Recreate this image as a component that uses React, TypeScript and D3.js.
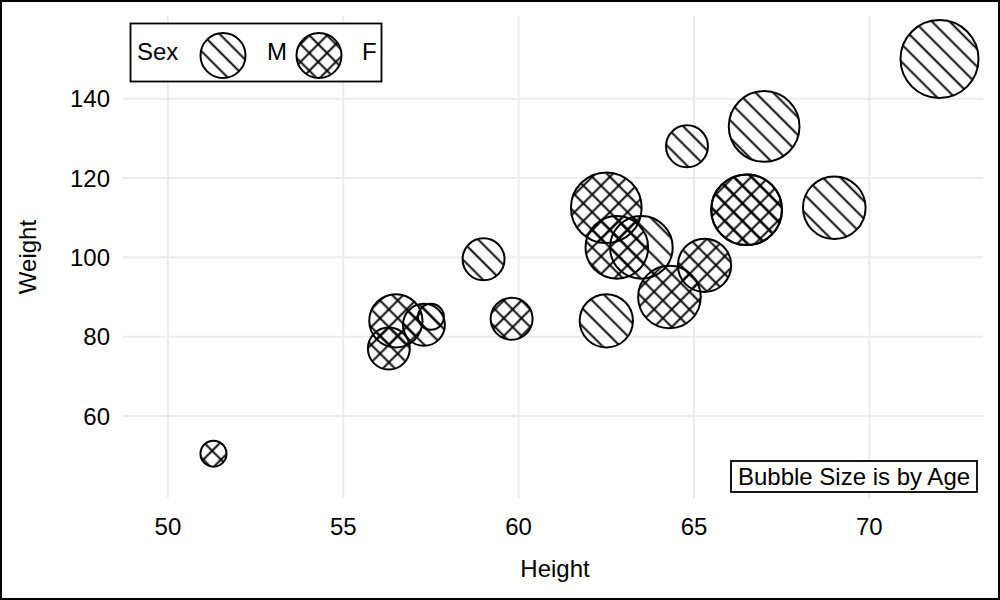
import React, { useEffect } from 'react';
import * as d3 from 'd3';

// SASHELP.CLASS
const names = ['Alfred', 'Alice', 'Barbara', 'Carol', 'Henry', 'James', 'Jane', 'Janet', 'Jeffrey', 'John',
  'Joyce', 'Judy', 'Louise', 'Mary', 'Philip', 'Robert', 'Ronald', 'Thomas', 'William'];
const sexes = ['M', 'F', 'F', 'F', 'M', 'M', 'F', 'F', 'M', 'M', 'F', 'F', 'F', 'F', 'M', 'M', 'M', 'M', 'M'];
const ages = [14, 13, 13, 14, 14, 12, 12, 15, 13, 12, 11, 14, 12, 15, 16, 12, 15, 11, 15];
const heights = [69.0, 56.5, 65.3, 62.8, 63.5, 57.3, 59.8, 62.5, 62.5, 59.0, 51.3, 64.3, 56.3, 66.5, 72.0, 64.8, 67.0, 57.5, 66.5];
const weights = [112.5, 84.0, 98.0, 102.5, 102.5, 83.0, 84.5, 112.5, 84.0, 99.5, 50.5, 90.0, 77.0, 112.0, 150.0, 128.0, 133.0, 85.0, 112.0];

const xTicks = [50, 55, 60, 65, 70];
const yTicks = [60, 80, 100, 120, 140];
const legendGroups = ['M', 'F'];

const W = 1000;
const H = 600;
const font = '"Liberation Sans", Arial, sans-serif';
const fontSize = 24;
const gridColor = '#ececec';
const hatchGap = 12.5;
const hatchWidth = 1.9;

export default function App() {
  useEffect(() => {
    document.body.style.margin = '0';
  }, []);

  const x = d3.scaleLinear().domain([48.72, 73.24]).range([123, 983]);
  const y = d3.scaleLinear().domain([39.32, 160.85]).range([498, 16]);
  const r = d3.scaleRadial().domain([11, 16]).range([13, 39]);

  const fillFor = (s: string) => (s === 'M' ? 'url(#hatchM)' : 'url(#hatchF)');
  const [x0, x1] = x.range();
  const [y0, y1] = y.range();

  // legend layout
  const legendCx = [223, 319];
  const legendTx = [267, 362];

  return (
    <svg width={W} height={H} style={{ display: 'block' }} fontFamily={font}>
      <defs>
        <pattern id="hatchM" patternUnits="userSpaceOnUse" width={hatchGap} height={hatchGap} patternTransform="rotate(45)">
          <line x1={0} y1={hatchGap / 2} x2={hatchGap} y2={hatchGap / 2} stroke="#000" strokeWidth={hatchWidth} />
        </pattern>
        <pattern id="hatchF" patternUnits="userSpaceOnUse" width={hatchGap} height={hatchGap} patternTransform="rotate(45)">
          <line x1={0} y1={hatchGap / 2} x2={hatchGap} y2={hatchGap / 2} stroke="#000" strokeWidth={hatchWidth} />
          <line x1={hatchGap / 2} y1={0} x2={hatchGap / 2} y2={hatchGap} stroke="#000" strokeWidth={hatchWidth} />
        </pattern>
      </defs>
      <rect x={0} y={0} width={W} height={H} fill="#fff" />

      {/* grid */}
      {xTicks.map(t => (
        <line key={'gx' + t} x1={x(t)} x2={x(t)} y1={y1} y2={y0} stroke={gridColor} strokeWidth={2} />
      ))}
      {yTicks.map(t => (
        <line key={'gy' + t} x1={x0} x2={x1} y1={y(t)} y2={y(t)} stroke={gridColor} strokeWidth={2} />
      ))}

      {/* tick labels */}
      {xTicks.map(t => (
        <text key={'tx' + t} x={x(t)} y={535} textAnchor="middle" fontSize={fontSize} fill="#000">{t}</text>
      ))}
      {yTicks.map(t => (
        <text key={'ty' + t} x={110} y={y(t)} dy="0.36em" textAnchor="end" fontSize={fontSize} fill="#000">{t}</text>
      ))}

      {/* axis labels */}
      <text x={(x0 + x1) / 2 + 2} y={577} textAnchor="middle" fontSize={fontSize} fill="#000">Height</text>
      <text transform={`translate(36, ${(y0 + y1) / 2}) rotate(-90)`} textAnchor="middle" fontSize={fontSize} fill="#000">Weight</text>

      {/* bubbles */}
      {names.map((n, i) => (
        <circle key={n} cx={x(heights[i])} cy={y(weights[i])} r={r(ages[i])}
          fill={fillFor(sexes[i])} stroke="#000" strokeWidth={2} />
      ))}

      {/* legend */}
      <rect x={130.5} y={23.5} width={251} height={58} fill="#fff" stroke="#000" strokeWidth={1.8} />
      <text x={137} y={60} fontSize={fontSize} fill="#000">Sex</text>
      {legendGroups.map((g, i) => (
        <g key={g}>
          <circle cx={legendCx[i]} cy={55.5} r={22.5} fill={fillFor(g)} stroke="#000" strokeWidth={2} />
          <text x={legendTx[i]} y={60} fontSize={fontSize} fill="#000">{g}</text>
        </g>
      ))}

      {/* note */}
      <rect x={731} y={461} width={246} height={31} fill="#fff" stroke="#000" strokeWidth={1.8} />
      <text x={854} y={485} textAnchor="middle" fontSize={fontSize} fill="#000">Bubble Size is by Age</text>

      {/* outer border */}
      <rect x={1} y={1} width={W - 2} height={H - 2} fill="none" stroke="#000" strokeWidth={2} />
    </svg>
  );
}
